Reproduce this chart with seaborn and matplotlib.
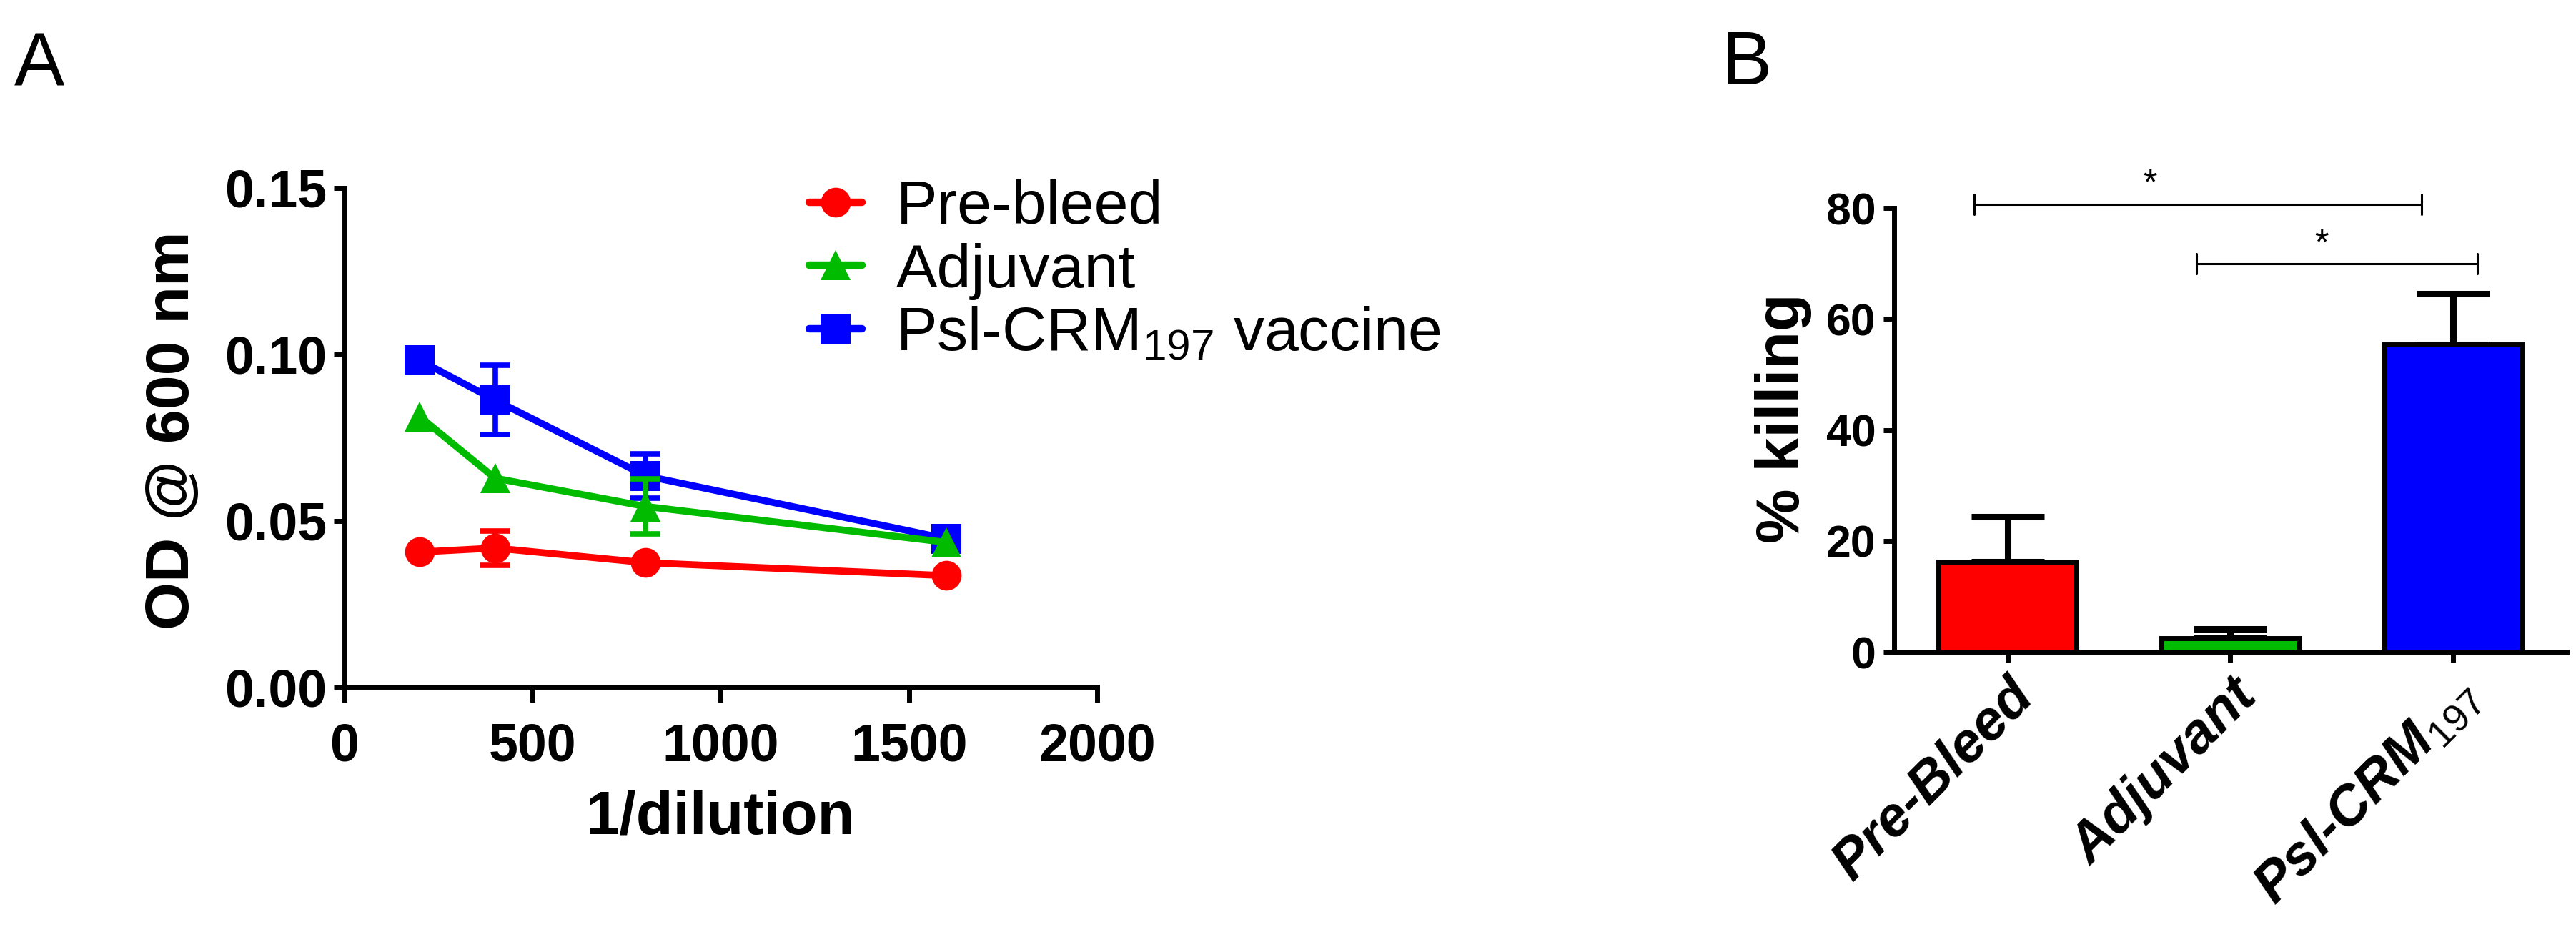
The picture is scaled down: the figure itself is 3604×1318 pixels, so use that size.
import pandas as pd
import seaborn as sns
import matplotlib
matplotlib.use("Agg")
import matplotlib.pyplot as plt

# panel A: OD @ 600 nm against 1/dilution
dilution = [200, 400, 800, 1600]
groups_a = ["Pre-bleed", "Adjuvant", "Psl-CRM$_{\\mathrm{197}}$ vaccine"]
od_prebleed = [0.0406, 0.0418, 0.0374, 0.0335]
od_adjuvant = [0.0813, 0.0628, 0.0543, 0.0435]
od_vaccine = [0.0982, 0.0863, 0.0635, 0.0446]
# 0 = no error bar visible outside the symbol
err_prebleed = [0, 0.0051, 0, 0]
err_adjuvant = [0, 0, 0.0083, 0]
err_vaccine = [0, 0.0105, 0.0067, 0]

# panel B: % killing
groups_b = ["Pre-Bleed", "Adjuvant", "Psl-CRM$_{\\mathit{197}}$"]
killing = [16.2, 2.4, 55.4]
killing_err = [8.2, 1.7, 9.2]

colors = ["#ff0000", "#00bb00", "#0000ff"]
markers = ["o", "^", "s"]

sns.set_style("ticks")
plt.rcParams["font.family"] = ["Liberation Sans", "DejaVu Sans"]
plt.rcParams["mathtext.fontset"] = "custom"
plt.rcParams["mathtext.rm"] = "Liberation Sans"
plt.rcParams["mathtext.it"] = "Liberation Sans:italic"
plt.rcParams["mathtext.bf"] = "Liberation Sans:bold"
for k in ("text.color", "axes.labelcolor", "xtick.color", "ytick.color", "axes.edgecolor"):
    plt.rcParams[k] = "black"

fig = plt.figure(figsize=(36.05, 13.18), dpi=100)
ax1 = fig.add_axes([0.1337, 0.2705, 0.2921, 0.5300])
ax2 = fig.add_axes([0.735, 0.308, 0.261, 0.471])

rows = []
for g, vals, errs in zip(groups_a, [od_prebleed, od_adjuvant, od_vaccine],
                         [err_prebleed, err_adjuvant, err_vaccine]):
    for d, v, e in zip(dilution, vals, errs):
        rows.append([g, d, v, e])
df_a = pd.DataFrame(rows, columns=["group", "dilution", "od", "err"])

sns.lineplot(data=df_a, x="dilution", y="od", hue="group", style="group",
             hue_order=groups_a, style_order=groups_a,
             palette=colors, markers=markers, dashes=False,
             linewidth=7, markersize=30, markeredgewidth=0, ax=ax1)

zs = [5, 4, 3]
for line, z in zip(ax1.lines[:3], zs):
    line.set_zorder(z)
for i, g in enumerate(groups_a):
    sub = df_a[(df_a["group"] == g) & (df_a["err"] > 0)]
    ax1.errorbar(sub["dilution"], sub["od"], yerr=sub["err"], fmt="none",
                 ecolor=colors[i], elinewidth=5.5, capsize=15, capthick=5.5,
                 zorder=zs[i] + 0.5)

ax1.set_xlim(0, 2000)
ax1.set_ylim(0, 0.15)
ax1.set_xticks([0, 500, 1000, 1500, 2000])
ax1.set_yticks([0, 0.05, 0.10, 0.15])
ax1.set_yticklabels(["0.00", "0.05", "0.10", "0.15"])
ax1.set_xlabel("1/dilution", fontsize=61, fontweight="bold")
ax1.set_ylabel("OD @ 600 nm", fontsize=62, fontweight="bold")
ax1.xaxis.set_label_coords(1008 / 3605, 1 - 1105 / 1318, transform=fig.transFigure)
ax1.yaxis.set_label_coords(282 / 3605, 1 - 602 / 1318, transform=fig.transFigure)

handles, labels = ax1.get_legend_handles_labels()
leg = ax1.legend(handles[-3:], groups_a, loc="upper left", frameon=False,
                 bbox_to_anchor=(1132 / 3605, 1 - 251 / 1318),
                 bbox_transform=fig.transFigure, fontsize=62,
                 handlelength=0.86, handletextpad=0.55, labelspacing=0.1,
                 borderaxespad=0, borderpad=0)
for h in leg.legend_handles:
    h.set_linewidth(7.5)
    h.set_markersize(30)

# panel B bars
df_b = pd.DataFrame({"group": groups_b, "killing": killing, "err": killing_err})
sns.barplot(data=df_b, x="group", y="killing", hue="group", palette=colors,
            saturation=1, width=0.62, edgecolor="black", linewidth=5,
            legend=False, errorbar=None, ax=ax2, zorder=3)
ax2.errorbar(range(len(groups_b)), killing,
             yerr=[[0] * len(killing), killing_err], fmt="none",
             ecolor="black", elinewidth=6.5, capsize=37, capthick=6.5, zorder=2)

ax2.set_xlim(-0.51, 2.51)
ax2.set_ylim(0, 80)
ax2.set_yticks([0, 20, 40, 60, 80])
ax2.set_xlabel("")
ax2.set_ylabel("% killing", fontsize=62, fontweight="bold")
ax2.yaxis.set_label_coords(2535 / 3605, 1 - 585 / 1318, transform=fig.transFigure)
ax2.set_xticks(range(len(groups_b)))
ax2.set_xticklabels(groups_b, rotation=45, ha="right", va="top",
                    rotation_mode="anchor", fontsize=56, fontweight="bold",
                    fontstyle="italic")

# significance brackets
brackets = [(-0.15, 1.86, 80.7, 0.64, 84.3), (0.85, 2.11, 70.0, 1.41, 73.4)]
for x0, x1, y, xs, ys in brackets:
    ax2.plot([x0, x1], [y, y], color="black", lw=2.2, clip_on=False)
    ax2.plot([x0, x0], [y - 1.8, y + 1.8], color="black", lw=2.2, clip_on=False)
    ax2.plot([x1, x1], [y - 1.8, y + 1.8], color="black", lw=2.2, clip_on=False)
    ax2.text(xs, ys, "*", fontsize=36, ha="center", va="center")

for ax in (ax1, ax2):
    sns.despine(ax=ax)
    for s in ("left", "bottom"):
        ax.spines[s].set_linewidth(5)
    ax.tick_params(width=5, length=11, pad=7)
ax1.tick_params(axis="x", length=16, pad=19)
for lab in ax1.get_xticklabels() + ax1.get_yticklabels():
    lab.set_fontsize(53)
    lab.set_fontweight("bold")
for lab in ax2.get_yticklabels():
    lab.set_fontsize(45)
    lab.set_fontweight("bold")

fig.text(20 / 3605, 1 - 119 / 1318, "A", fontsize=76, va="baseline")
fig.text(2408 / 3605, 1 - 118 / 1318, "B", fontsize=76, va="baseline")

fig.savefig("out.png", dpi=100)
